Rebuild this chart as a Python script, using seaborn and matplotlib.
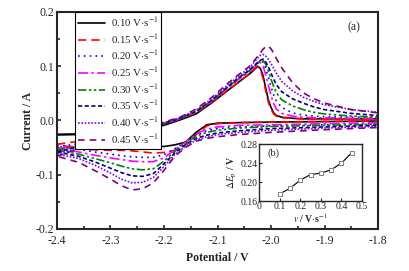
import numpy as np
import pandas as pd
import matplotlib
matplotlib.use("Agg")
import matplotlib.pyplot as plt
import seaborn as sns

# forward (anodic) sweep potentials, V
pot_up = [-2.40, -2.35, -2.30, -2.25, -2.20, -2.17, -2.14, -2.11, -2.08, -2.06,
          -2.04, -2.035, -2.03, -2.025, -2.02, -2.015, -2.01, -2.005, -2.00,
          -1.995, -1.99, -1.98, -1.96, -1.94, -1.92, -1.90, -1.85, -1.80]
# reverse (cathodic) sweep potentials, V
pot_down = [-1.80, -1.90, -2.00, -2.06, -2.10, -2.12, -2.14, -2.16, -2.18, -2.20,
            -2.22, -2.24, -2.26, -2.28, -2.30, -2.33, -2.36, -2.40]

rates = ["0.10", "0.15", "0.20", "0.25", "0.30", "0.35", "0.40", "0.45"]

up_010 = [-0.026, -0.025, -0.023, -0.018, -0.009, 0.001, 0.012, 0.033, 0.056, 0.071,
          0.086, 0.090, 0.095, 0.100, 0.096, 0.083, 0.060, 0.038, 0.024,
          0.014, 0.009, 0.006, 0.004, 0.003, 0.003, 0.003, 0.003, 0.003]
up_015 = [-0.044, -0.037, -0.030, -0.019, -0.006, 0.003, 0.014, 0.034, 0.056, 0.071,
          0.086, 0.090, 0.095, 0.099, 0.094, 0.078, 0.055, 0.034, 0.020,
          0.012, 0.008, 0.005, 0.004, 0.003, 0.003, 0.003, 0.003, 0.003]
up_020 = [-0.048, -0.042, -0.032, -0.019, -0.006, 0.003, 0.016, 0.036, 0.061, 0.077,
          0.091, 0.096, 0.100, 0.105, 0.109, 0.108, 0.096, 0.080, 0.062,
          0.047, 0.036, 0.024, 0.014, 0.010, 0.008, 0.007, 0.006, 0.005]
up_025 = [-0.052, -0.044, -0.033, -0.019, -0.006, 0.003, 0.016, 0.036, 0.061, 0.076,
          0.090, 0.095, 0.099, 0.104, 0.107, 0.100, 0.085, 0.065, 0.046,
          0.031, 0.021, 0.013, 0.008, 0.006, 0.005, 0.005, 0.004, 0.004]
up_030 = [-0.055, -0.045, -0.033, -0.019, -0.006, 0.003, 0.016, 0.037, 0.062, 0.078,
          0.092, 0.097, 0.101, 0.106, 0.110, 0.111, 0.104, 0.091, 0.076,
          0.063, 0.051, 0.038, 0.027, 0.020, 0.015, 0.012, 0.008, 0.006]
up_035 = [-0.058, -0.046, -0.033, -0.019, -0.005, 0.004, 0.017, 0.038, 0.063, 0.079,
          0.093, 0.098, 0.102, 0.107, 0.111, 0.113, 0.108, 0.099, 0.087,
          0.076, 0.066, 0.053, 0.040, 0.032, 0.025, 0.020, 0.013, 0.009]
up_040 = [-0.062, -0.048, -0.034, -0.019, -0.004, 0.005, 0.019, 0.040, 0.066, 0.082,
          0.097, 0.103, 0.109, 0.115, 0.120, 0.122, 0.119, 0.113, 0.105,
          0.096, 0.087, 0.072, 0.055, 0.043, 0.035, 0.029, 0.020, 0.015]
up_045 = [-0.066, -0.049, -0.034, -0.018, -0.003, 0.006, 0.021, 0.043, 0.069, 0.085,
          0.100, 0.106, 0.112, 0.118, 0.124, 0.131, 0.136, 0.137, 0.132,
          0.124, 0.114, 0.097, 0.070, 0.051, 0.040, 0.032, 0.020, 0.014]

dn_010 = [-0.001, -0.002, -0.003, -0.004, -0.005, -0.008, -0.022, -0.040, -0.045, -0.048,
          -0.047, -0.043, -0.037, -0.031, -0.027, -0.026, -0.026, -0.026]
dn_015 = [-0.001, -0.002, -0.003, -0.004, -0.006, -0.010, -0.026, -0.045, -0.055, -0.059,
          -0.060, -0.058, -0.056, -0.055, -0.055, -0.054, -0.052, -0.044]
dn_020 = [-0.006, -0.008, -0.010, -0.012, -0.015, -0.019, -0.027, -0.040, -0.052, -0.063,
          -0.068, -0.068, -0.067, -0.065, -0.062, -0.058, -0.053, -0.048]
dn_025 = [-0.004, -0.006, -0.008, -0.009, -0.012, -0.016, -0.025, -0.040, -0.054, -0.069,
          -0.076, -0.076, -0.075, -0.072, -0.069, -0.064, -0.058, -0.052]
dn_030 = [-0.007, -0.009, -0.011, -0.014, -0.018, -0.022, -0.029, -0.042, -0.057, -0.075,
          -0.089, -0.091, -0.089, -0.084, -0.078, -0.070, -0.062, -0.055]
dn_035 = [-0.009, -0.012, -0.015, -0.019, -0.023, -0.027, -0.033, -0.045, -0.060, -0.080,
          -0.098, -0.103, -0.102, -0.096, -0.088, -0.076, -0.066, -0.058]
dn_040 = [-0.011, -0.014, -0.018, -0.022, -0.026, -0.030, -0.036, -0.048, -0.063, -0.085,
          -0.105, -0.114, -0.115, -0.108, -0.097, -0.082, -0.070, -0.062]
dn_045 = [-0.013, -0.017, -0.022, -0.026, -0.030, -0.033, -0.038, -0.050, -0.066, -0.092,
          -0.115, -0.126, -0.128, -0.120, -0.108, -0.092, -0.077, -0.066]

# inset: peak separation vs scan rate
scan_rate = [0.10, 0.15, 0.20, 0.25, 0.30, 0.35, 0.40, 0.45]
delta_ep = [0.175, 0.187, 0.204, 0.216, 0.219, 0.226, 0.240, 0.262]

ups = [up_010, up_015, up_020, up_025, up_030, up_035, up_040, up_045]
downs = [dn_010, dn_015, dn_020, dn_025, dn_030, dn_035, dn_040, dn_045]
colors = ["black", "#FF0000", "#0000FF", "#FF00FF", "#008000", "#000080", "#8000FF", "#800080"]
dashes = [None, (5, 3), (1, 2.5), (6, 2, 1.5, 2), (5, 1.5, 1.5, 1.5, 1.5, 1.5),
          (2.5, 1.5), (1, 1), (4, 3)]

sns.set_style("ticks")
plt.rcParams["font.family"] = ["Liberation Serif", "DejaVu Serif"]
plt.rcParams["mathtext.fontset"] = "stix"
plt.rcParams["xtick.direction"] = "in"
plt.rcParams["ytick.direction"] = "in"

fig = plt.figure(figsize=(4.1, 2.71), dpi=100)
ax = fig.add_axes([0.139, 0.155, 0.783, 0.801])

for r, up, dn, c, d in zip(rates, ups, downs, colors, dashes):
    df = pd.DataFrame({"E": pot_up + pot_down, "I": up + dn})
    sns.lineplot(data=df, x="E", y="I", sort=False, estimator=None, color=c,
                 lw=1.2, ax=ax, label=f"{r} V$\\cdot$s$^{{-1}}$")
    if d is not None:
        ax.lines[-1].set_dashes(d)

ax.set_xlim(-2.4, -1.8)
ax.set_ylim(-0.2, 0.2)
ax.set_xticks(np.arange(-2.4, -1.79, 0.1))
ax.set_yticks([-0.2, -0.1, 0.0, 0.1, 0.2])
ax.set_xticks(np.arange(-2.35, -1.8, 0.1), minor=True)
ax.set_yticks([-0.15, -0.05, 0.05, 0.15], minor=True)
ax.xaxis.set_major_formatter(matplotlib.ticker.FormatStrFormatter("%.1f"))
ax.yaxis.set_major_formatter(matplotlib.ticker.FormatStrFormatter("%.1f"))
ax.tick_params(which="both", labelsize=8.5, width=1.2, length=3, pad=2)
ax.tick_params(axis="x", which="both", pad=4)
ax.tick_params(which="minor", length=2)
for s in ax.spines.values():
    s.set_linewidth(1.5)
ax.set_xlabel("Potential / V", fontsize=8.5, fontweight="bold", labelpad=4)
ax.set_ylabel("Current / A", fontsize=8.5, fontweight="bold", labelpad=1)
ax.text(-1.845, 0.172, "(a)", fontsize=8.5, ha="center", va="center")

leg = ax.legend(loc="upper left", bbox_to_anchor=(0.056, 1.0), borderaxespad=0,
                fontsize=7.8, handlelength=2.5, handletextpad=0.5, labelspacing=0.26,
                fancybox=False, framealpha=1, edgecolor="black", borderpad=0.3)
leg.get_frame().set_linewidth(0.8)

# inset
ins = fig.add_axes([0.632, 0.258, 0.251, 0.210])
sns.lineplot(x=scan_rate, y=delta_ep, ax=ins, color="black", lw=0.8, marker="s",
             markersize=3.5, markerfacecolor="white", markeredgecolor="#808080",
             markeredgewidth=0.7)
ins.set_xlim(0, 0.5)
ins.set_ylim(0.16, 0.28)
ins.set_xticks([0, 0.1, 0.2, 0.3, 0.4, 0.5])
ins.set_xticklabels(["0", "0.1", "0.2", "0.3", "0.4", "0.5"])
ins.set_yticks([0.16, 0.20, 0.24, 0.28])
ins.yaxis.set_major_formatter(matplotlib.ticker.FormatStrFormatter("%.2f"))
ins.tick_params(labelsize=7, width=0.8, length=2, pad=1)
for s in ins.spines.values():
    s.set_linewidth(1.0)
ins.set_xlabel(r"$v$ / V$\cdot$s$^{-1}$", fontsize=7, fontweight="bold", labelpad=0)
ins.set_ylabel(r"$\Delta E_{\mathrm{p}}$ / V", fontsize=7, fontweight="bold", labelpad=1)
ins.text(0.04, 0.255, "(b)", fontsize=7.5)

fig.savefig("out.png", dpi=100)
